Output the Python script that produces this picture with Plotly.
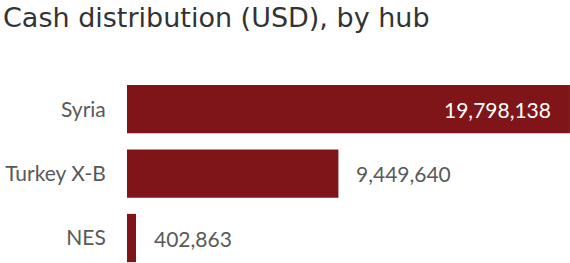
import plotly.graph_objects as go

hubs = ["Syria", "Turkey X-B", "NES"]
amounts = [19798138, 9449640, 402863]
labels = ["19,798,138", "9,449,640", "402,863"]

bar_color = "#7F1518"
grey = "#595959"

fig = go.Figure(go.Bar(
    x=amounts, y=hubs, orientation="h",
    marker=dict(color=bar_color, line=dict(width=0)),
    hoverinfo="skip",
))

annotations = []
for i, (h, v, t) in enumerate(zip(hubs, amounts, labels)):
    if i == 0:
        annotations.append(dict(x=v, y=h, xref="x", yref="y", text=t, showarrow=False,
                                xanchor="right", xshift=-17,
                                font=dict(family="Lato", size=21, color="white")))
    else:
        annotations.append(dict(x=v, y=h, xref="x", yref="y", text=t, showarrow=False,
                                xanchor="left", xshift=16,
                                font=dict(family="Lato", size=21, color=grey)))

fig.update_layout(
    width=570, height=263,
    margin=dict(l=127, r=0, t=77, b=0),
    paper_bgcolor="white", plot_bgcolor="white",
    showlegend=False,
    bargap=0.25,
    title=dict(text="Cash distribution (USD), by hub",
               x=3 / 570, xanchor="left", xref="container",
               y=1 - 18 / 263, yanchor="middle", yref="container",
               font=dict(family="DejaVu Sans", size=27, color="#333333")),
    xaxis=dict(range=[0, 19.8e6], visible=False, showgrid=False, zeroline=False, fixedrange=True),
    yaxis=dict(range=[2.388, -0.5], showgrid=False, zeroline=False, showline=False,
               ticks="outside", ticklen=16, tickcolor="rgba(0,0,0,0)",
               tickfont=dict(family="Lato", size=21, color=grey), fixedrange=True),
    annotations=annotations,
)

fig.write_html("out.html", config={"displayModeBar": False},
               post_script="document.body.style.margin='0';document.body.style.overflow='hidden';")
